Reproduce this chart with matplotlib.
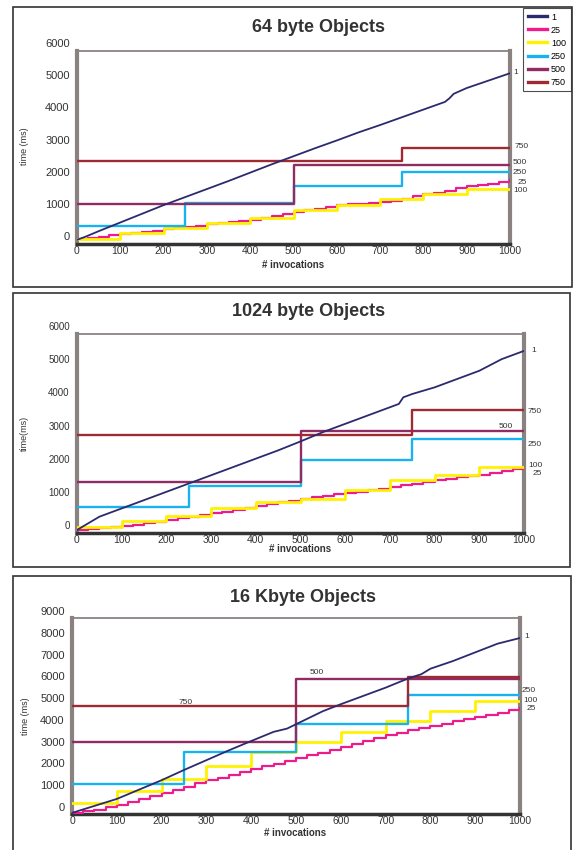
import numpy as np
import matplotlib.pyplot as plt
from matplotlib.patches import Rectangle
from matplotlib.lines import Line2D
from matplotlib.transforms import ScaledTranslation

plt.rcParams['font.family'] = ['Liberation Sans', 'DejaVu Sans']

W, H = 574, 850

series_names = ["1", "25", "100", "250", "500", "750"]
colors = ["#2b2a6e", "#ec1c8c", "#fff200", "#1ab2ee", "#8e2c63", "#9e2a34"]
x_ticks = [0, 100, 200, 300, 400, 500, 600, 700, 800, 900, 1000]

# ---- 64 byte objects ----
p1_one_x = [0, 20, 50, 100, 150, 200, 250, 300, 350, 400, 450, 500, 550, 600,
            650, 700, 750, 800, 850, 860, 870, 900, 950, 1000]
p1_one_y = [-120, -20, 150, 420, 690, 960, 1210, 1460, 1710, 1970, 2230, 2480,
            2730, 2970, 3220, 3450, 3690, 3930, 4170, 4280, 4420, 4600, 4830, 5060]
p1_25_x = list(range(0, 1001, 25))
p1_25_y = [-100, -60, -20, 20, 60, 100, 130, 170, 210, 250, 290, 320, 360, 400,
           430, 470, 500, 560, 620, 680, 760, 800, 850, 900, 950, 980, 1010, 1040,
           1070, 1100, 1150, 1230, 1300, 1340, 1400, 1480, 1540, 1580, 1620, 1680, 1750]
p1_100_x = [0, 100, 200, 300, 400, 500, 600, 700, 800, 900]
p1_100_y = [-80, 80, 240, 400, 560, 800, 950, 1140, 1320, 1450]
p1_250_x = [0, 250, 500, 750]
p1_250_y = [310, 1020, 1560, 1990]
p1_500_x = [0, 500]
p1_500_y = [980, 2220]
p1_750_x = [0, 750]
p1_750_y = [2320, 2750]

# ---- 1024 byte objects ----
p2_one_x = [0, 50, 100, 150, 200, 250, 300, 350, 400, 450, 500, 550, 600, 650,
            700, 720, 730, 750, 800, 850, 900, 950, 1000]
p2_one_y = [-150, 250, 500, 750, 1000, 1250, 1500, 1750, 2000, 2250, 2520, 2800,
            3050, 3300, 3550, 3650, 3850, 3950, 4150, 4400, 4650, 5000, 5250]
p2_25_x = list(range(0, 1001, 25))
p2_25_y = [-150, -130, -100, -70, -40, 10, 60, 100, 150, 200, 240, 300, 350, 400,
           450, 500, 560, 620, 680, 730, 790, 840, 880, 920, 970, 1010, 1060, 1100,
           1150, 1200, 1250, 1310, 1360, 1400, 1440, 1480, 1520, 1570, 1620, 1680, 1730]
p2_100_x = [0, 100, 200, 300, 400, 500, 600, 700, 800, 900]
p2_100_y = [-60, 130, 270, 510, 680, 780, 1060, 1360, 1520, 1760]
p2_250_x = [0, 250, 500, 750]
p2_250_y = [550, 1190, 1950, 2600]
p2_500_x = [0, 500]
p2_500_y = [1310, 2820]
p2_750_x = [0, 750]
p2_750_y = [2700, 3460]

# ---- 16 Kbyte objects ----
p3_one_x = [0, 50, 100, 150, 200, 250, 300, 350, 400, 450, 480, 500, 520, 560,
            600, 650, 700, 750, 780, 800, 850, 900, 950, 1000]
p3_one_y = [-270, 50, 370, 800, 1230, 1700, 2150, 2600, 3030, 3450, 3600, 3800,
            4000, 4400, 4720, 5100, 5480, 5900, 6100, 6350, 6700, 7100, 7500, 7760]
p3_25_x = list(range(0, 1001, 25))
p3_25_y = [-260, -200, -120, 0, 90, 230, 370, 500, 640, 790, 940, 1080, 1230, 1350,
           1480, 1600, 1730, 1860, 1990, 2110, 2240, 2370, 2500, 2620, 2750, 2890,
           3020, 3160, 3290, 3400, 3520, 3630, 3740, 3830, 3930, 4020, 4110, 4220,
           4330, 4440, 4550]
p3_100_x = [0, 100, 200, 300, 400, 500, 600, 700, 800, 900]
p3_100_y = [180, 730, 1280, 1870, 2520, 2980, 3440, 3970, 4430, 4890]
p3_250_x = [0, 250, 500, 750]
p3_250_y = [1050, 2510, 3790, 5160]
p3_500_x = [0, 500]
p3_500_y = [2970, 5900]
p3_750_x = [0, 750]
p3_750_y = [4660, 5980]

fig = plt.figure(figsize=(5.74, 8.5), dpi=100)


def fx(px):
    return px / W


def fy(py):
    return 1 - py / H


def panel(rect, ymax, off_px, data, ytick_fs):
    l, t, r, b = rect
    ax = fig.add_axes([fx(l), fy(b), fx(r) - fx(l), fy(t) - fy(b)])
    off = ScaledTranslation(0, off_px / 100, fig.dpi_scale_trans)
    tr = ax.transData + off
    lines = []
    one_x, one_y, s25_x, s25_y = data[0], data[1], data[2], data[3]
    ln, = ax.plot(one_x, one_y, color=colors[0], lw=1.3, transform=tr, zorder=5)
    lines.append(ln)
    ln, = ax.step(s25_x, s25_y, where='post', color=colors[1], lw=1.6, transform=tr, zorder=3)
    lines.append(ln)
    for k, (sx, sy) in enumerate(data[4:]):
        sx = list(sx) + [1000]
        sy = list(sy) + [sy[-1]]
        lw = 2.0 if k == 0 else 1.7
        ln, = ax.step(sx, sy, where='post', color=colors[k + 2], lw=lw, transform=tr, zorder=3)
        lines.append(ln)
    ax.set_xlim(0, 1000)
    ax.set_ylim(0, ymax)
    ax.set_xticks(x_ticks)
    ax.set_yticks(range(0, ymax + 1, 1000))
    ax.tick_params(axis='x', length=0, pad=1.5, labelsize=7.5, labelcolor='#333')
    ax.tick_params(axis='y', length=2.5, width=1.3, direction='inout', color='#222',
                   pad=4, labelsize=ytick_fs, labelcolor='#333')
    for lab in ax.get_yticklabels():
        lab.set_transform(lab.get_transform() + off)
    ax.spines['left'].set_color('#8a8280')
    ax.spines['left'].set_linewidth(3)
    ax.spines['right'].set_color('#8a8280')
    ax.spines['right'].set_linewidth(3)
    ax.spines['top'].set_color('#8a8280')
    ax.spines['top'].set_linewidth(1.3)
    ax.spines['bottom'].set_color('#333333')
    ax.spines['bottom'].set_linewidth(2.5)
    return ax, lines


ax1, lines1 = panel((77, 51, 510, 244), 6000, 8,
                    [p1_one_x, p1_one_y, p1_25_x, p1_25_y,
                     (p1_100_x, p1_100_y), (p1_250_x, p1_250_y),
                     (p1_500_x, p1_500_y), (p1_750_x, p1_750_y)], 8)
ax2, lines2 = panel((77, 334, 524, 533), 6000, 8,
                    [p2_one_x, p2_one_y, p2_25_x, p2_25_y,
                     (p2_100_x, p2_100_y), (p2_250_x, p2_250_y),
                     (p2_500_x, p2_500_y), (p2_750_x, p2_750_y)], 7)
ax3, lines3 = panel((72, 618, 520, 814), 9000, 7,
                    [p3_one_x, p3_one_y, p3_25_x, p3_25_y,
                     (p3_100_x, p3_100_y), (p3_250_x, p3_250_y),
                     (p3_500_x, p3_500_y), (p3_750_x, p3_750_y)], 8)

# panel frames
for (l, t, r, b) in [(13, 7, 572, 287), (13, 293, 570, 567), (13, 576, 571, 852)]:
    fig.add_artist(Rectangle((fx(l), fy(b)), fx(r) - fx(l), fy(t) - fy(b),
                             transform=fig.transFigure, fill=False,
                             edgecolor='#333333', lw=1.2))

# titles and axis labels
fig.text(fx(319), fy(27), "64 byte Objects", ha='center', va='center',
         fontsize=13, fontweight='bold', color='#333')
fig.text(fx(309), fy(312), "1024 byte Objects", ha='center', va='center',
         fontsize=13, fontweight='bold', color='#333')
fig.text(fx(303), fy(597), "16 Kbyte Objects", ha='center', va='center',
         fontsize=13, fontweight='bold', color='#333')
for xc, yc in [(293, 265), (300, 549), (295, 833)]:
    fig.text(fx(xc), fy(yc), "# invocations", ha='center', va='center',
             fontsize=7, fontweight='bold', color='#333')
for xc, yc, s in [(24, 146, "time (ms)"), (24, 433, "time(ms)"), (26, 716, "time (ms)")]:
    fig.text(fx(xc), fy(yc), s, ha='center', va='center', rotation=90,
             fontsize=6.5, color='#333')

# end labels
end_labels = [
    ("1", 513, 72), ("750", 515, 147), ("500", 513, 163), ("250", 513, 173),
    ("25", 518, 182), ("100", 513, 191),
    ("1", 531, 351), ("750", 528, 412), ("500", 499, 427), ("250", 528, 445),
    ("100", 528, 465), ("25", 533, 473),
    ("1", 524, 637), ("500", 310, 673), ("750", 179, 702), ("250", 522, 691),
    ("100", 523, 700), ("25", 527, 708),
]
for s, xp, yp in end_labels:
    fig.text(fx(xp), fy(yp), s, ha='left', va='center', fontsize=6, color='#333')

# legend
handles = [Line2D([], [], color=c, lw=2.4) for c in colors]
leg = fig.legend(handles, series_names, loc='upper left',
                 bbox_to_anchor=(fx(523), fy(8)), bbox_transform=fig.transFigure,
                 frameon=True, fancybox=False, edgecolor='#222', fontsize=6.5,
                 handlelength=2.2, handletextpad=0.4, labelspacing=0.45,
                 borderpad=0.5, borderaxespad=0)
leg.get_frame().set_linewidth(0.8)

fig.savefig("out.png", dpi=100)
